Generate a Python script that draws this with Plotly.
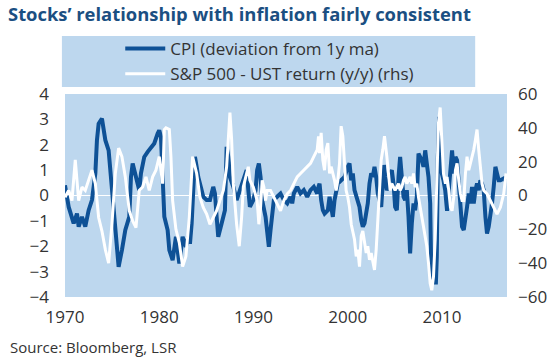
import plotly.graph_objects as go

cpi_year = [1970.0, 1970.39, 1970.92, 1971.27, 1971.45, 1971.80, 1972.15, 1972.51, 1972.86, 1973.22,
            1973.39, 1973.57, 1973.92, 1974.10, 1974.28, 1974.63, 1974.98, 1975.34, 1975.69, 1976.04,
            1976.40, 1976.82, 1977.0, 1977.18, 1977.53, 1977.88, 1978.06, 1978.41, 1978.77, 1979.12,
            1979.47, 1979.83, 1980.0, 1980.18, 1980.36, 1980.54, 1980.89, 1981.07, 1981.42, 1981.77,
            1982.13, 1982.48, 1982.83, 1983.1, 1983.26, 1983.44, 1983.61, 1983.79, 1983.97, 1984.14,
            1984.50, 1984.67, 1985.03, 1985.38, 1985.73, 1985.91, 1986.09, 1986.26, 1986.62, 1986.97,
            1987.15, 1987.33, 1987.50, 1987.86, 1988.21, 1988.56, 1988.92, 1989.27, 1989.45, 1989.62,
            1989.98, 1990.22, 1990.39, 1990.57, 1990.75, 1990.92, 1991.28, 1991.45, 1991.63, 1991.81,
            1991.98, 1992.16, 1992.51, 1992.87, 1993.22, 1993.58, 1993.93, 1994.11, 1994.28, 1994.64,
            1994.99, 1995.34, 1995.70, 1996.05, 1996.40, 1996.76, 1996.9, 1997.01, 1997.18, 1997.36,
            1997.54, 1997.89, 1998.07, 1998.24, 1998.42, 1998.60, 1998.77, 1998.95, 1999.30, 1999.66,
            2000.01, 2000.19, 2000.37, 2000.54, 2000.72, 2000.90, 2001.07, 2001.25, 2001.43, 2001.60,
            2001.78, 2002.13, 2002.31, 2002.49, 2002.66, 2002.84, 2003.02, 2003.19, 2003.37, 2003.55,
            2003.72, 2003.85, 2003.97, 2004.15, 2004.33, 2004.50, 2004.68, 2004.86, 2005.03, 2005.21,
            2005.39, 2005.56, 2005.74, 2005.92, 2006.09, 2006.27, 2006.45, 2006.62, 2006.80, 2006.98,
            2007.15, 2007.33, 2007.51, 2007.69, 2007.86, 2008.04, 2008.22, 2008.39, 2008.57, 2008.75,
            2008.85, 2009.0, 2009.2, 2009.35, 2009.45, 2009.56, 2009.70, 2009.84, 2009.98, 2010.16,
            2010.34, 2010.54, 2010.72, 2010.90, 2011.07, 2011.25, 2011.43, 2011.60, 2011.78, 2011.96,
            2012.13, 2012.31, 2012.49, 2012.66, 2012.84, 2013.02, 2013.19, 2013.37, 2013.55, 2013.72,
            2013.90, 2014.08, 2014.25, 2014.43, 2014.61, 2014.78, 2014.96, 2015.14, 2015.31, 2015.49,
            2015.67, 2015.84, 2016.02, 2016.20, 2016.55, 2016.73]
cpi_dev = [0.4, -0.45, -1.1, -0.71, -1.23, -0.84, -1.23, -0.58, -0.18, 0.87,
           2.18, 2.83, 3.03, 2.7, 2.18, 1.78, 0.21, -1.36, -2.81, -2.15,
           -1.36, -0.84, 0.73, 1.26, 0.73, 0.21, 0.87, 1.52, 1.72, 1.92,
           2.05, 2.44, 2.57, 2.31, 0.87, -0.84, -1.36, -2.15, -2.55, -1.63,
           -2.68, -1.63, -2.02, -1.6, -1.9, -1.1, 0.21, 1.52, 1.13, 0.73,
           0.21, -0.05, -0.18, -0.18, 0.34, 0.08, -0.84, -1.63, -1.1, -0.58,
           1.92, 1.52, 0.73, 0.34, -0.18, 0.21, 0.73, 1.0, 0.21, -0.45,
           -0.18, 0.21, 1.0, 1.26, 0.73, -0.18, -0.84, -1.36, -2.02, -1.36,
           -0.58, -0.18, -0.05, 0.08, -0.18, -0.31, -0.05, -0.31, 0.08, 0.34,
           0.08, 0.21, -0.05, 0.21, 0.34, 0.08, 0.34, 0.47, -0.18, -0.58,
           -0.71, -0.58, -0.05, -0.58, -0.84, -0.18, 0.21, 0.47, 0.6, 0.73,
           1.13, 1.26, 0.6, 0.87, 0.21, -0.05, -0.18, -0.45, -0.97, -1.23,
           -1.1, -0.31, 0.47, 0.87, 0.73, 1.13, 0.73, 0.08, -0.18, -0.45,
           0.47, 1.2, 0.73, 0.21, 0.34, 0.87, 1.0, 0.47, -0.45, -0.58,
           0.73, 1.52, 0.73, -0.05, -0.18, 0.21, -0.84, -2.28, -1.1, -0.31,
           -0.58, -0.05, 1.65, 1.52, 1.39, 1.13, 1.78, 1.26, 0.73, -0.31,
           -2.68, -3.3, -3.0, -3.5, -2.41, 1.52, 3.1, 1.52, 0.87, 0.6,
           0.21, -0.6, 0.21, 1.26, 1.78, 0.87, 1.52, 1.39, 0.47, -0.58,
           -1.23, -1.36, -0.97, -0.45, 0.08, -0.31, 0.34, -0.31, 0.21, 0.47,
           0.21, 0.6, 0.47, 0.21, -0.84, -1.5, -1.23, -0.84, -0.31, 0.34,
           1.13, 0.87, 0.6, 0.6, 0.67, 0.6]

sp_year = [1970.0, 1970.39, 1970.74, 1971.09, 1971.45, 1971.80, 1972.15, 1972.51, 1972.86, 1973.22,
           1973.57, 1973.92, 1974.28, 1974.63, 1974.98, 1975.34, 1975.69, 1976.04, 1976.40, 1976.82,
           1977.18, 1977.53, 1977.71, 1977.88, 1978.24, 1978.59, 1978.94, 1979.30, 1979.65, 1980.0,
           1980.36, 1980.54, 1980.71, 1981.07, 1981.24, 1981.42, 1981.77, 1982.13, 1982.48, 1982.83,
           1983.19, 1983.54, 1983.97, 1984.32, 1984.67, 1985.03, 1985.38, 1985.73, 1986.09, 1986.44,
           1986.80, 1987.15, 1987.33, 1987.50, 1987.68, 1987.86, 1988.21, 1988.49, 1988.74, 1988.92,
           1989.27, 1989.45, 1989.62, 1989.98, 1990.39, 1990.57, 1990.75, 1990.92, 1991.10, 1991.28,
           1991.45, 1991.81, 1992.16, 1992.51, 1992.87, 1993.22, 1993.58, 1993.93, 1994.28, 1994.64,
           1994.99, 1995.34, 1995.70, 1996.05, 1996.40, 1996.76, 1996.9, 1997.01, 1997.18, 1997.36,
           1997.54, 1997.71, 1997.89, 1998.07, 1998.24, 1998.42, 1998.60, 1998.77, 1998.95, 1999.13,
           1999.30, 1999.48, 1999.66, 1999.83, 2000.01, 2000.19, 2000.37, 2000.54, 2000.72, 2000.90,
           2001.07, 2001.25, 2001.43, 2001.60, 2001.78, 2001.96, 2002.13, 2002.31, 2002.49, 2002.66,
           2002.84, 2003.02, 2003.19, 2003.37, 2003.55, 2003.72, 2003.90, 2004.15, 2004.33, 2004.50,
           2004.68, 2004.86, 2005.03, 2005.21, 2005.39, 2005.56, 2005.74, 2005.92, 2006.09, 2006.27,
           2006.45, 2006.62, 2006.80, 2006.98, 2007.15, 2007.33, 2007.51, 2007.69, 2007.86, 2008.04,
           2008.22, 2008.39, 2008.57, 2008.75, 2008.92, 2009.10, 2009.28, 2009.45, 2009.63, 2009.81,
           2009.98, 2010.16, 2010.37, 2010.54, 2010.72, 2010.90, 2011.07, 2011.25, 2011.43, 2011.60,
           2011.78, 2011.96, 2012.13, 2012.31, 2012.49, 2012.66, 2012.84, 2013.02, 2013.19, 2013.37,
           2013.55, 2013.72, 2013.90, 2014.08, 2014.25, 2014.43, 2014.78, 2015.14, 2015.49, 2015.84,
           2016.20, 2016.55, 2016.80]
sp_ret = [-1, 3, -3, 21, -3, 5, 3, 9, 15, 7,
          -13, -21, -32, -40, -17, 13, 28, 23, 11, -9,
          -15, -19, -9, 3, 5, 11, 3, 11, 15, 23,
          7, 39, 40, 39, 23, -3, -20, -28, -42, -36,
          -13, 23, 13, -1, -7, -11, -17, -13, -9, -3,
          3, 17, 37, 49, 33, 7, -17, -30, -13, 5,
          13, 17, 9, 5, -3, -17, -7, 9, 5, -3,
          3, 3, -1, -5, -9, -3, 1, 3, 7, 11,
          13, 15, 17, 19, 23, 27, 35, 25, 37, 21,
          15, 27, 31, 13, 17, 13, 9, 3, 9, 19,
          41, 35, 17, 3, -1, -7, -17, -21, -26, -36,
          -32, -42, -24, -21, -28, -34, -30, -38, -34, -40,
          -44, -32, -17, 3, 21, 27, 35, 23, 11, 3,
          7, 5, 3, 5, 7, 3, 5, 9, 11, 7,
          9, 11, 7, 13, 5, 7, -1, -7, -13, -17,
          -24, -30, -40, -52, -56, -48, -26, 3, 43, 52,
          31, 13, 7, 11, 3, -7, -9, -1, 15, 19,
          9, 1, -3, -3, 13, 23, 15, 19, 23, 27,
          33, 39, 27, 15, 7, 3, 1, -3, -7, -11,
          -7, 1, 13]

x_ticks = [1970, 1980, 1990, 2000, 2010]
left_ticks = [-4, -3, -2, -1, 0, 1, 2, 3, 4]
right_ticks = [-60, -40, -20, 0, 20, 40, 60]

BG = "#BDD7EE"
BLUE = "#0E5196"
TXT = "#333333"
FONT = "Open Sans"

fig = go.Figure()
fig.add_trace(go.Scatter(x=cpi_year, y=cpi_dev, mode="lines", name="CPI (deviation from 1y ma)",
                         line=dict(color=BLUE, width=4)))
fig.add_trace(go.Scatter(x=sp_year, y=sp_ret, mode="lines", name="S&P 500 - UST return (y/y) (rhs)",
                         line=dict(color="white", width=3), yaxis="y2"))

# legend backdrop
fig.add_shape(type="rect", xref="paper", yref="paper", x0=-0.007, x1=0.928, y0=1.034, y1=1.286,
              fillcolor=BG, line=dict(width=0), layer="below")

fig.update_layout(
    width=560, height=358,
    margin=dict(l=65, r=53, t=94, b=61, autoexpand=False),
    paper_bgcolor="white", plot_bgcolor=BG,
    font=dict(family=FONT, size=16, color=TXT),
    title=dict(text="<b>Stocks’ relationship with inflation fairly consistent</b>",
               xref="container", yref="container", x=8/560, xanchor="left",
               y=1-15/358, yanchor="middle",
               font=dict(family=FONT, size=18.4, color="#1B4F82")),
    showlegend=True,
    legend=dict(x=0.125, xanchor="left", y=1.31, yanchor="top", bgcolor="rgba(0,0,0,0)",
                font=dict(family=FONT, size=17, color=TXT), tracegroupgap=0, itemwidth=40),
    xaxis=dict(range=[1970, 2016.9], tickvals=x_ticks, showgrid=False, zeroline=False,
               showline=False, ticks="", automargin=False, ticklabelstandoff=8,
               tickfont=dict(size=17, color=TXT)),
    yaxis=dict(range=[-4, 4], tickvals=left_ticks, showgrid=False, zeroline=True,
               zerolinecolor="white", zerolinewidth=1, ticks="", ticklabelstandoff=15,
               automargin=False, tickfont=dict(size=17, color=TXT)),
    yaxis2=dict(range=[-60, 60], tickvals=right_ticks, overlaying="y", side="right",
                showgrid=False, zeroline=False, ticks="", ticklabelstandoff=10,
                automargin=False, tickfont=dict(size=17, color=TXT)),
    annotations=[dict(text="Source: Bloomberg, LSR", xref="paper", yref="paper",
                      x=(8-65)/442, y=(297-347)/203, xanchor="left", yanchor="middle",
                      showarrow=False, font=dict(family=FONT, size=15, color=TXT))],
)

fig.write_html("out.html", config={"displayModeBar": False},
               post_script="document.body.style.margin='0';document.body.style.overflow='hidden';")
